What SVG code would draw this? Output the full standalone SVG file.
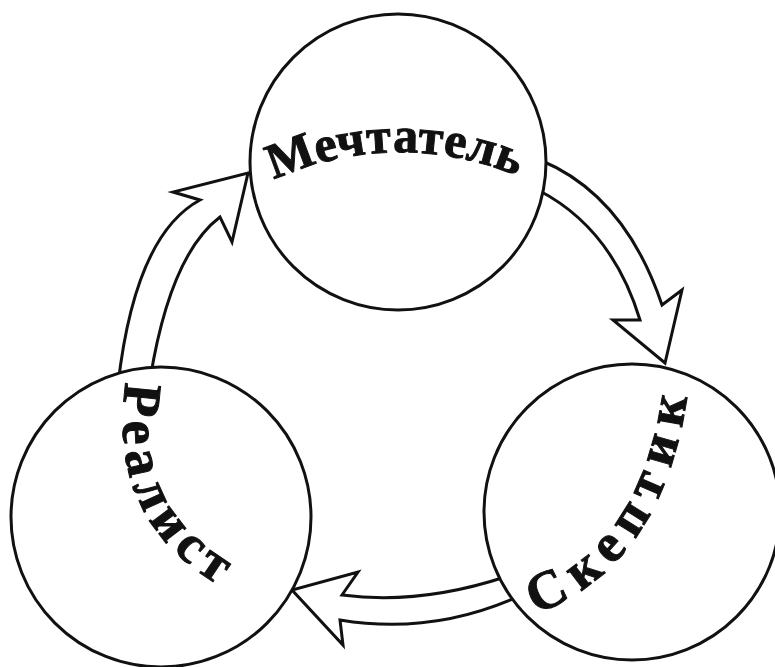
<svg xmlns="http://www.w3.org/2000/svg" xmlns:xlink="http://www.w3.org/1999/xlink" width="775" height="667" viewBox="0 0 775 667">
<style>
.c{fill:#fff;stroke:#111;stroke-width:3}
.a{fill:#fff;stroke:#111;stroke-width:3;stroke-linejoin:miter}
.t{font-family:"Liberation Serif","DejaVu Serif",serif;font-weight:bold;fill:#111;stroke:#111;stroke-width:1}
</style>
<defs>
<path id="p1" d="M 274 180 A 300 300 0 0 1 526 180"/>
<path id="p2" d="M 126 382 Q 103 530 242 598"/>
<path id="p3" d="M 536 614 Q 672 562 690 372"/>
</defs>
<rect width="775" height="667" fill="#fff"/>
<g id="connectors">
<path class="a" d="M 118 385 Q 135 235 200 200 L 173 192 L 248 173 L 232 242 L 220 217 Q 170 255 150 380 Z"/>
<path class="a" d="M 540 160 Q 625 195 662 305 L 682 290 L 665 363 L 613 320 L 640 320 Q 612 228 538 190 Z"/>
<path class="a" d="M 505 577 Q 420 605 342 595 L 358 572 L 292 590 L 343 645 L 340 620 Q 430 635 515 598 Z"/>
</g>
<g id="dreamer">
<circle class="c" cx="398" cy="162" r="148"/>
<text class="t" font-size="50"><textPath xlink:href="#p1" href="#p1" textLength="250">Мечтатель</textPath></text>
</g>
<g id="realist">
<circle class="c" cx="161" cy="517" r="150"/>
<text class="t" font-size="54"><textPath xlink:href="#p2" href="#p2" textLength="238">Реалист</textPath></text>
</g>
<g id="skeptic">
<circle class="c" cx="632" cy="512" r="148"/>
<text class="t" font-size="54"><textPath xlink:href="#p3" href="#p3" textLength="278">Скептик</textPath></text>
</g>
</svg>
